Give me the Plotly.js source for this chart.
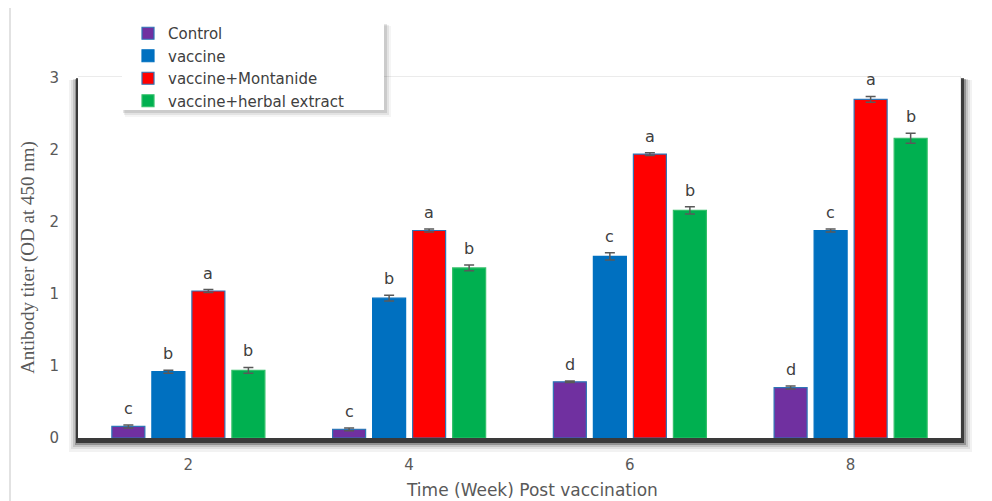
<!DOCTYPE html>
<html>
<head>
<meta charset="utf-8">
<script src="https://cdn.plot.ly/plotly-3.0.1.min.js"></script>
<style>html,body{margin:0;padding:0;background:#fff}#chart{width:992px;height:501px}</style>
</head>
<body>
<div id="chart"></div>
<script>
// ---- data ----
var weeks = ['2', '4', '6', '8'];
var seriesNames = ['Control', 'vaccine', 'vaccine+Montanide', 'vaccine+herbal extract'];
var controlVals = [0.08, 0.06, 0.39, 0.35];
var vaccineVals = [0.46, 0.97, 1.26, 1.44];
var montanideVals = [1.02, 1.44, 1.97, 2.35];
var herbalVals = [0.47, 1.18, 1.58, 2.08];
var controlErr = [0.01, 0.01, 0.005, 0.01];
var vaccineErr = [0.01, 0.02, 0.025, 0.01];
var montanideErr = [0.01, 0.01, 0.01, 0.02];
var herbalErr = [0.02, 0.02, 0.025, 0.035];
var controlLetters = ['c', 'c', 'd', 'd'];
var vaccineLetters = ['b', 'b', 'c', 'c'];
var montanideLetters = ['a', 'a', 'a', 'a'];
var herbalLetters = ['b', 'b', 'b', 'b'];
var yTickVals = [0, 0.5, 1, 1.5, 2, 2.5];
var yTickText = ['0', '1', '1', '2', '2', '3'];
var xTitle = 'Time (Week) Post vaccination';
var yTitle = 'Antibody titer (OD at 450 nm)';

var colors = ['#7030A0', '#0070C0', '#FF0000', '#00B050'];
var outline = ['#2E75B6', '#0070C0', '#2E75B6', '#33C06A'];
var vals = [controlVals, vaccineVals, montanideVals, herbalVals];
var errs = [controlErr, vaccineErr, montanideErr, herbalErr];
var letters = [controlLetters, vaccineLetters, montanideLetters, herbalLetters];

var bargap = 0.275;
var traces = [];
for (var s = 0; s < 4; s++) {
  traces.push({
    type: 'bar', name: seriesNames[s], x: weeks, y: vals[s],
    marker: {color: colors[s], line: {color: outline[s], width: 1.2}},
    error_y: {type: 'data', array: errs[s], visible: true, color: '#595959', thickness: 1.5, width: 5}
  });
}

// geometry helpers (pixels -> paper)
var L = 78, T = 77, R = 31, B = 63, W = 992 - L - R, H = 501 - T - B;
function px(x) { return (x - L) / W; }
function py(y) { return (501 - B - y) / H; }

var annotations = [];
var slot = (1 - bargap) / 4;
for (var s2 = 0; s2 < 4; s2++) {
  for (var i = 0; i < weeks.length; i++) {
    annotations.push({
      x: i + (s2 - 1.5) * slot, y: vals[s2][i] + errs[s2][i], xref: 'x', yref: 'y',
      text: letters[s2][i], showarrow: false, yanchor: 'bottom', yshift: 5,
      font: {family: 'DejaVu Sans, sans-serif', size: 16, color: '#404040'}
    });
  }
}
// x-axis title (slightly right of centre, as in the reference)
annotations.push({xref: 'paper', yref: 'paper', x: px(532), y: py(490), xanchor: 'center', yanchor: 'middle',
  text: xTitle, showarrow: false, font: {family: 'DejaVu Sans, sans-serif', size: 17, color: '#595959'}});

var shapes = [];
function rect(x0, y0, x1, y1, fill) {
  shapes.push({type: 'rect', xref: 'paper', yref: 'paper', layer: 'below',
    x0: px(x0), x1: px(x1), y0: py(y1), y1: py(y0), fillcolor: fill, line: {width: 0}});
}
// plot area shadow
rect(L - 9, T + 3, L + W + 11, T + H + 14, 'rgba(0,0,0,0.05)');
rect(L - 7, T + 3, L + W + 9, T + H + 11, 'rgba(0,0,0,0.08)');
rect(L - 5, T + 2, L + W + 7, T + H + 9, 'rgba(0,0,0,0.12)');
rect(L - 3, T + 2, L + W + 5, T + H + 7, 'rgba(0,0,0,0.25)');
rect(L - 2, T + 1, L + W + 3, T + H + 5, 'rgba(0,0,0,0.6)');
rect(L, T - 1, L + W, T + H, '#ebebeb');
rect(L, T, L + W - 1, T + H, '#ffffff');
// legend box shadow + box
rect(125, 26, 391, 117, 'rgba(0,0,0,0.04)');
rect(124, 25, 389, 115, 'rgba(0,0,0,0.07)');
rect(123, 24, 387, 113, 'rgba(0,0,0,0.10)');
rect(122, 22, 384, 110, '#ffffff');
// page border line
shapes.push({type: 'line', xref: 'paper', yref: 'paper', layer: 'below',
  x0: px(10), x1: px(10), y0: py(8), y1: py(501), line: {color: '#d9d9d9', width: 1.5}});

var layout = {
  width: 992, height: 501,
  margin: {l: L, r: R, t: T, b: B},
  paper_bgcolor: '#ffffff', plot_bgcolor: 'rgba(0,0,0,0)',
  barmode: 'group', bargap: bargap, bargroupgap: 0.175,
  showlegend: true,
  legend: {x: px(128), y: py(17), xanchor: 'left', yanchor: 'top', bgcolor: 'rgba(0,0,0,0)',
    font: {family: 'DejaVu Sans, sans-serif', size: 15, color: '#404040'}, tracegroupgap: 0, itemwidth: 30},
  xaxis: {type: 'category', showgrid: false, zeroline: false, showline: false, ticks: '',
    ticklabelstandoff: 16,
    tickfont: {family: 'DejaVu Sans, sans-serif', size: 15, color: '#595959'}},
  yaxis: {range: [0, 2.505], tickvals: yTickVals, ticktext: yTickText, showgrid: false,
    zeroline: false, showline: false, ticks: '', ticklabelstandoff: 18,
    tickfont: {family: 'DejaVu Sans, sans-serif', size: 15, color: '#595959'},
    title: {text: yTitle, standoff: 9,
      font: {family: 'Liberation Serif, serif', size: 19, color: '#595959'}}},
  annotations: annotations,
  shapes: shapes
};
Plotly.newPlot('chart', traces, layout, {displayModeBar: false, staticPlot: true});
</script>
</body>
</html>
